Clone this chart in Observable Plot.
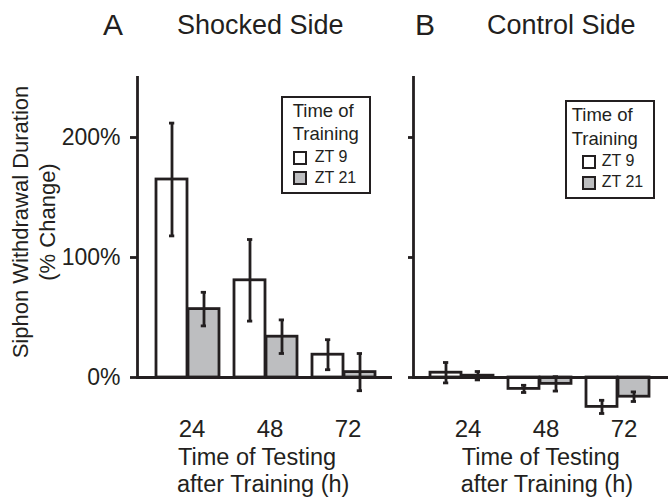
<!DOCTYPE html>
<html><head><meta charset="utf-8">
<script src="https://cdn.jsdelivr.net/npm/d3@7"></script>
<script src="https://cdn.jsdelivr.net/npm/@observablehq/plot@0.6"></script>
<style>
html,body{margin:0;padding:0;background:#fff;}
#wrap{position:relative;width:668px;height:502px;overflow:hidden;font-family:"Liberation Sans",Arial,Helvetica,sans-serif;color:#231f20;}
#wrap svg{position:absolute;left:0;top:0;}
.abs{position:absolute;white-space:pre;line-height:1;}
</style></head><body><div id="wrap"></div>
<script>
const hours = ["24", "48", "72"];
const seriesNames = ["ZT 9", "ZT 21"];
const shockedZT9 = [165, 81, 19];
const shockedZT9Err = [47, 34, 12.5];
const shockedZT21 = [57, 34, 4.5];
const shockedZT21Err = [14, 14, 15.5];
const controlZT9 = [4, -9.5, -24.5];
const controlZT9Err = [8.5, 3, 5.5];
const controlZT21 = [1.5, -5.3, -16];
const controlZT21Err = [3.5, 6, 4];
const yTicks = [0, 100, 200];
const yTickLabels = ["0%", "100%", "200%"];
const panelLetters = ["A", "B"];
const panelTitles = ["Shocked Side", "Control Side"];
const xTitle = ["Time of Testing", "after Training (h)"];
const yTitle = ["Siphon Withdrawal Duration", "(% Change)"];
const legendTitle = ["Time of", "Training"];
const fills = ["#ffffff", "#bdbec0"];
const INK = "#231f20";
const FONT = "'Liberation Sans', Arial, Helvetica, sans-serif";

const wrap = document.getElementById("wrap");

function panel({zt9, zt9e, zt21, zt21e, marginLeft, marginRight, align, showLabels, tickSize, tickDx}) {
  const rows = hours.flatMap((h, i) => [
    {hour: h, series: seriesNames[0], value: zt9[i], err: zt9e[i]},
    {hour: h, series: seriesNames[1], value: zt21[i], err: zt21e[i]}
  ]);
  const a = rows.filter(d => d.series === seriesNames[0]);
  const b = rows.filter(d => d.series === seriesNames[1]);
  const half = 32, bw = 63.75, off = 16, cap = 3;
  const sw = 2.8;
  return Plot.plot({
    width: 668, height: 502,
    marginTop: 77, marginBottom: 83, marginLeft, marginRight,
    style: {background: "none", fontFamily: FONT, color: INK, overflow: "visible"},
    x: {domain: hours, paddingInner: 0.19, paddingOuter: 0.215, align, label: null},
    y: {domain: [-35, 250], label: null},
    marks: [
      Plot.rectY(a, {x: "hour", y1: 0, y2: "value", fill: fills[0], stroke: INK, strokeWidth: sw, insetRight: half}),
      Plot.rectY(b, {x: "hour", y1: 0, y2: "value", fill: fills[1], stroke: INK, strokeWidth: sw, insetLeft: half}),
      Plot.ruleY([0], {stroke: INK, strokeWidth: sw}),
      Plot.ruleX(a, {x: "hour", y1: d => d.value - d.err, y2: d => d.value + d.err, dx: -off, stroke: INK, strokeWidth: sw}),
      Plot.ruleX(b, {x: "hour", y1: d => d.value - d.err, y2: d => d.value + d.err, dx: off, stroke: INK, strokeWidth: sw}),
      Plot.tickY(a, {x: "hour", y: d => d.value + d.err, insetLeft: off - cap, insetRight: bw - off - cap, stroke: INK, strokeWidth: sw}),
      Plot.tickY(a, {x: "hour", y: d => d.value - d.err, insetLeft: off - cap, insetRight: bw - off - cap, stroke: INK, strokeWidth: sw}),
      Plot.tickY(b, {x: "hour", y: d => d.value + d.err, insetLeft: bw - off - cap, insetRight: off - cap, stroke: INK, strokeWidth: sw}),
      Plot.tickY(b, {x: "hour", y: d => d.value - d.err, insetLeft: bw - off - cap, insetRight: off - cap, stroke: INK, strokeWidth: sw}),
      Plot.frame({anchor: "left", insetBottom: 42, stroke: INK, strokeWidth: sw}),
      Plot.axisY({ticks: yTicks, tickFormat: showLabels ? (d => yTickLabels[yTicks.indexOf(d)]) : (() => ""),
        tickSize, tickPadding: 10, fontSize: 23, stroke: INK, strokeWidth: sw, label: null}),
      Plot.axisX({tickSize: 0, tickPadding: 0, fontSize: 24, dx: tickDx, label: null})
    ]
  });
}

wrap.appendChild(panel({zt9: shockedZT9, zt9e: shockedZT9Err, zt21: shockedZT21, zt21e: shockedZT21Err,
  marginLeft: 137, marginRight: 276, align: 0.53, showLabels: true, tickSize: 7, tickDx: 4}));
wrap.appendChild(panel({zt9: controlZT9, zt9e: controlZT9Err, zt21: controlZT21, zt21e: controlZT21Err,
  marginLeft: 413, marginRight: 0, align: 0.47, showLabels: false, tickSize: 5, tickDx: 6}));

function addText(text, x, baseline, fs, parent = wrap) {
  const d = document.createElement("div");
  d.className = "abs";
  d.textContent = text;
  d.style.left = x + "px";
  d.style.top = (baseline - 0.8465 * fs) + "px";
  d.style.fontSize = fs + "px";
  parent.appendChild(d);
  return d;
}

// panel titles
addText(panelLetters[0], 103, 35, 30);
addText(panelTitles[0], 177, 35, 27);
addText(panelLetters[1], 415, 35, 30);
addText(panelTitles[1], 487, 35, 27);

// x axis titles
addText(xTitle[0], 178, 466, 23.5);
addText(xTitle[1], 177, 492.7, 23.5);
addText(xTitle[0], 461.7, 466, 23.5);
addText(xTitle[1], 460.7, 492.7, 23.5);

// y axis title (rotated)
{
  const d = document.createElement("div");
  d.style.cssText = "position:absolute;width:300px;height:54px;line-height:27px;font-size:22px;text-align:center;white-space:pre;transform:rotate(-90deg);transform-origin:50% 50%;";
  d.style.left = (34.2 - 150) + "px";
  d.style.top = (222 - 27) + "px";
  d.textContent = yTitle.join("\n");
  wrap.appendChild(d);
}

// legends
function legend({left, top, w, h, titleX, swX, textX}) {
  const box = document.createElement("div");
  box.style.cssText = `position:absolute;box-sizing:border-box;border:2.8px solid ${INK};background:#fff;`;
  box.style.left = (left - 1.4) + "px";
  box.style.top = (top - 1.4) + "px";
  box.style.width = (w + 2.8) + "px";
  box.style.height = (h + 2.8) + "px";
  wrap.appendChild(box);
  addText(legendTitle[0], left + titleX, top + 20, 18.5);
  addText(legendTitle[1], left + titleX, top + 43.5, 18.5);
  seriesNames.forEach((s, i) => {
    const sq = document.createElement("div");
    sq.style.cssText = `position:absolute;box-sizing:border-box;width:14px;height:14px;border:2.5px solid ${INK};background:${fills[i]};`;
    sq.style.left = (left + swX) + "px";
    sq.style.top = (top + 53.5 + i * 20.5) + "px";
    wrap.appendChild(sq);
    addText(s, left + textX, top + 65, 16).style.top = (top + 65 + i * 21 - 0.8465 * 16) + "px";
  });
}
legend({left: 282.7, top: 97.3, w: 86.6, h: 95.4, titleX: 10, swX: 10.5, textX: 32});
legend({left: 566.7, top: 101.7, w: 87.3, h: 95.6, titleX: 5, swX: 15, textX: 35});
</script></body></html>
